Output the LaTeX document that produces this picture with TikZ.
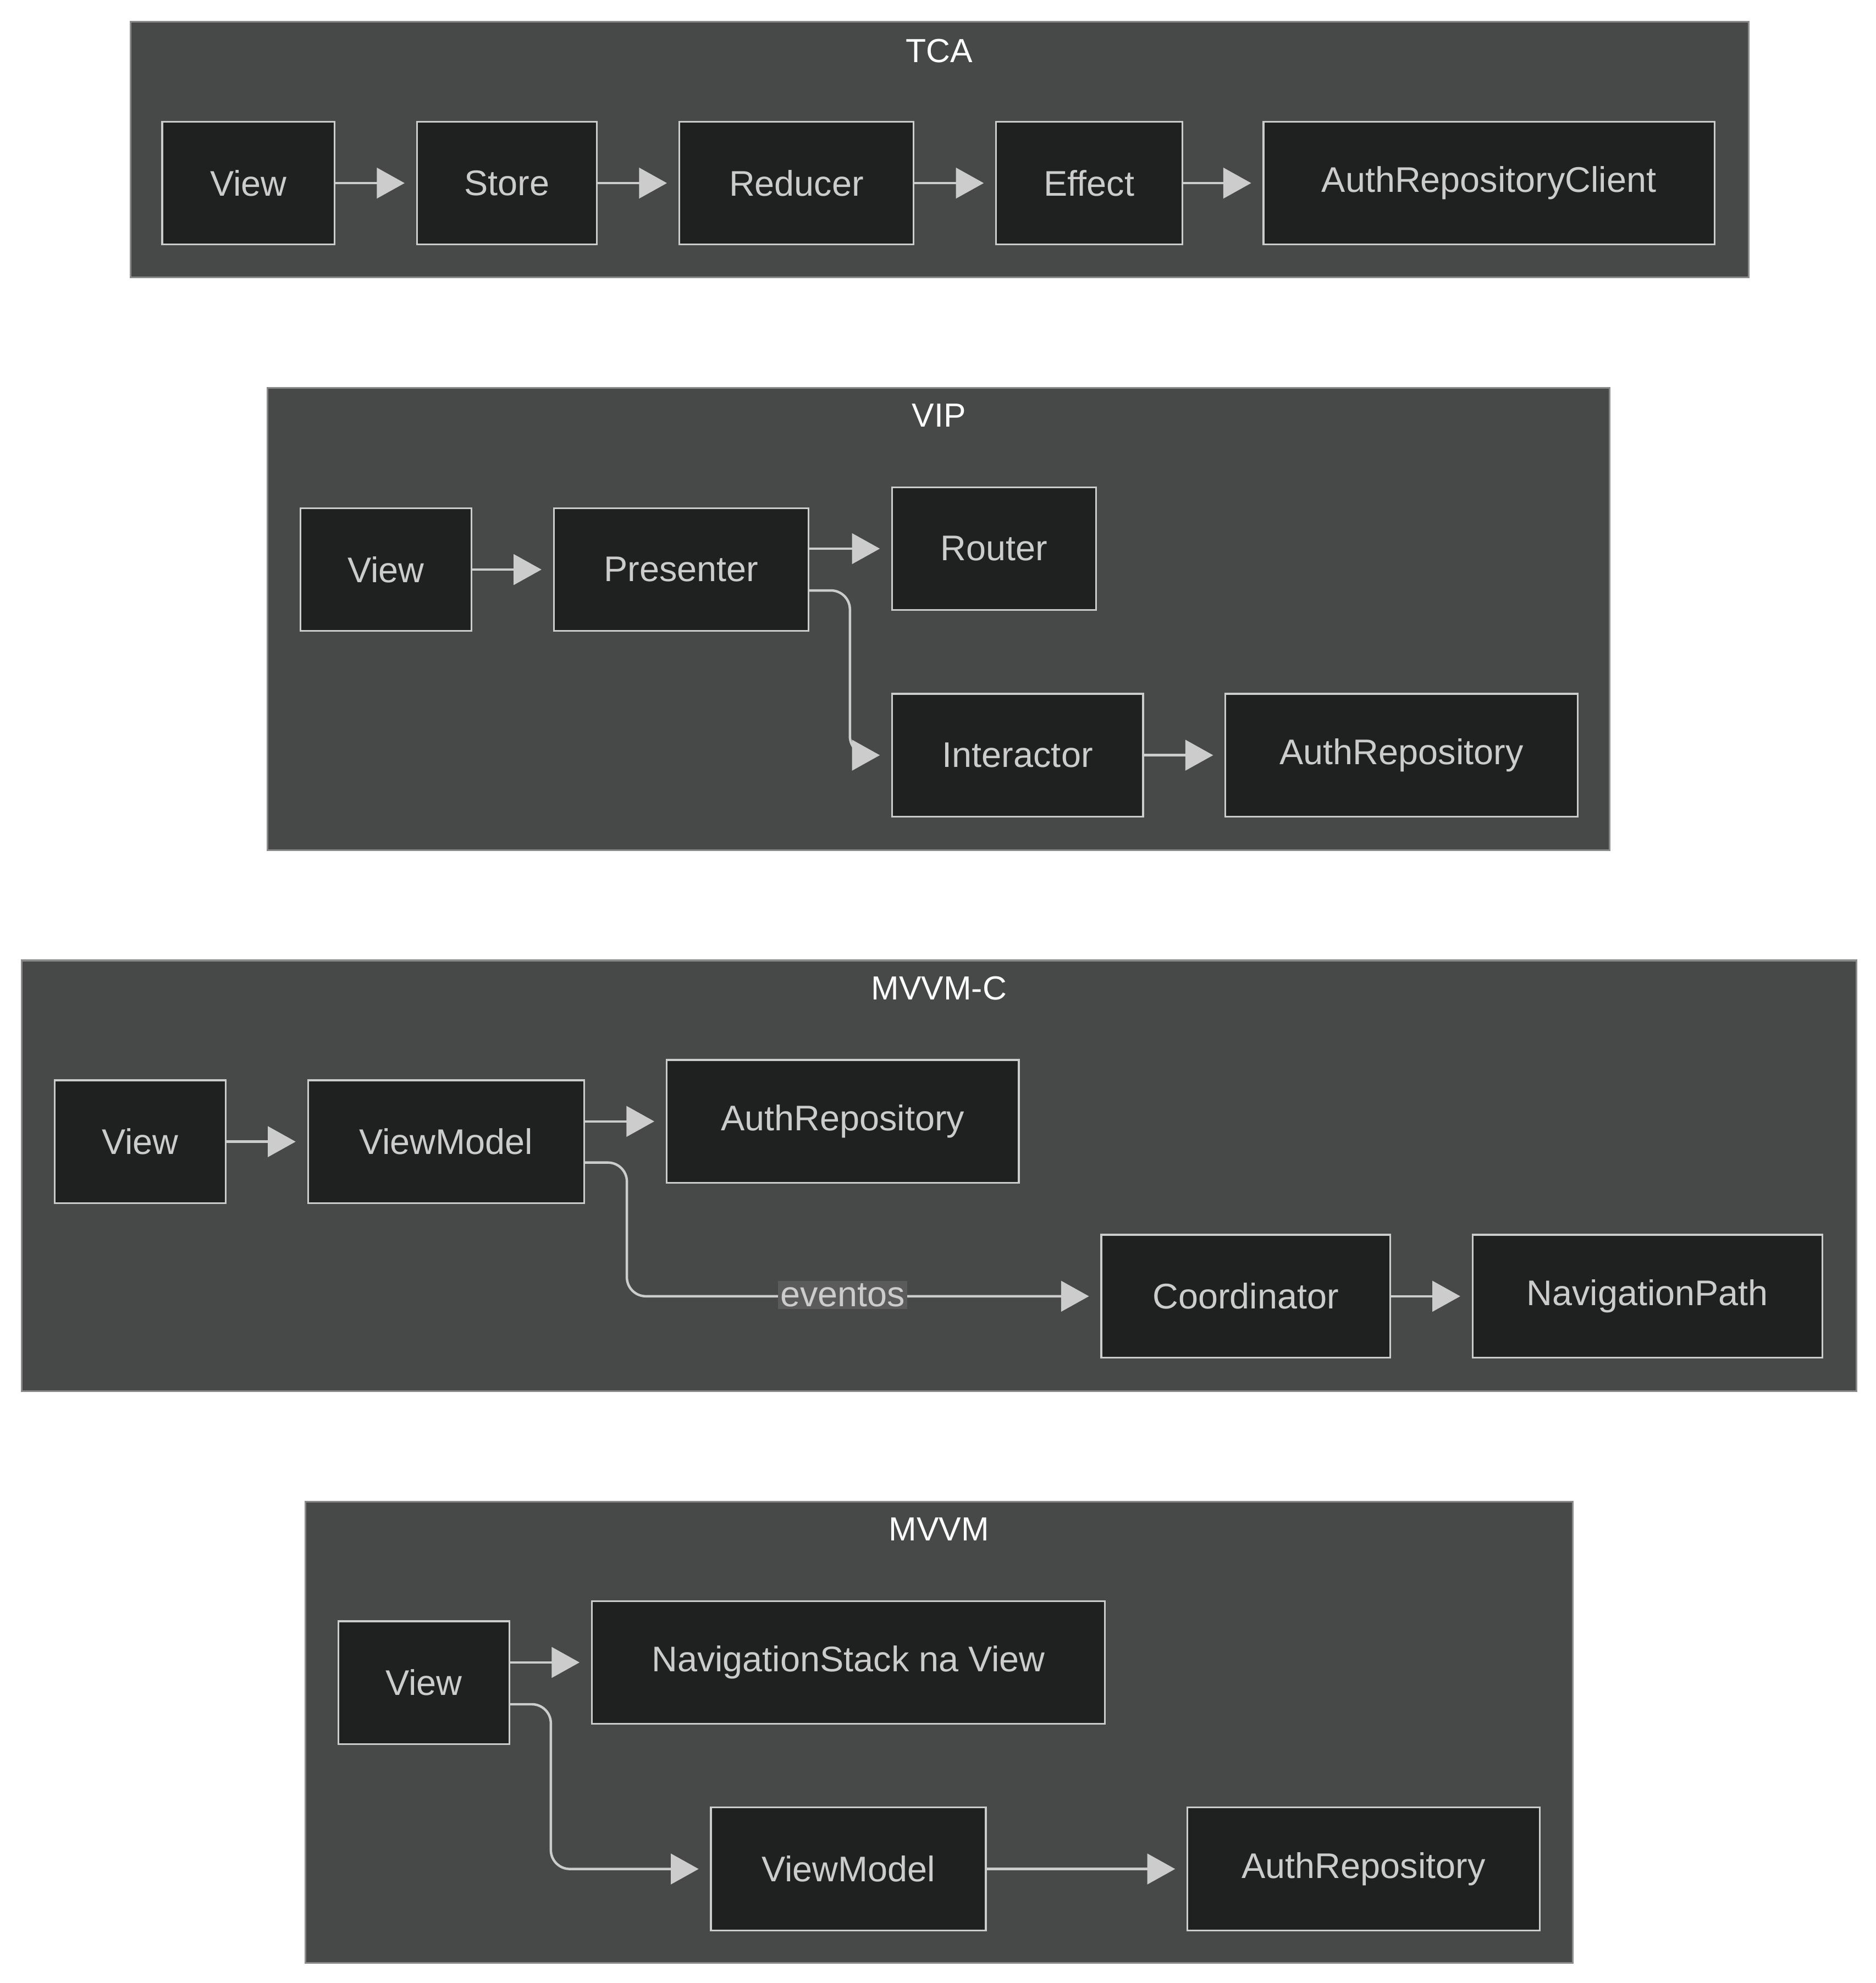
\documentclass[tikz,border=0pt]{standalone}
\usepackage{fontspec}
\setmainfont{Liberation Sans}
\usetikzlibrary{arrows.meta,positioning}
\definecolor{clusterfill}{HTML}{474948}
\definecolor{clusterline}{HTML}{8A8A8A}
\definecolor{boxfill}{HTML}{1F2020}
\definecolor{boxline}{HTML}{CCCCCC}
\definecolor{labelfill}{HTML}{5A5B5A}
\tikzset{
  cluster/.style={draw=clusterline, fill=clusterfill, line width=0.8pt},
  ctitle/.style={text=white, font=\fontsize{15}{18}\selectfont},
  box/.style={rectangle, draw=boxline, fill=boxfill, text=boxline, line width=0.8pt,
    minimum height=1.94cm, inner sep=0pt, font=\fontsize{16}{19}\selectfont},
  flow/.style={draw=boxline, line width=1.1pt, rounded corners=0.3cm,
    -{Triangle[length=0.44cm,width=0.48cm]}, shorten >=0.18cm},
  elabel/.style={fill=labelfill, text=boxline, inner sep=1pt, font=\fontsize{16}{19}\selectfont}
}
\begin{document}
\begin{tikzpicture}[x=0.02cm,y=-0.02cm]
  \useasboundingbox[fill=white] (0,0) rectangle (1480,1565);

  % TCA
  \draw[cluster] (103,17) rectangle (1380,219);
  \node[ctitle] (tcat) at (741,40) {TCA};
  \node[box, minimum width=2.72cm] (tview) at (196,144.5) {View};
  \node[box, minimum width=2.84cm] (tstore) at (400,144.5) {Store};
  \node[box, minimum width=3.7cm] (tred) at (628.5,144.5) {Reducer};
  \node[box, minimum width=2.94cm] (teff) at (859.5,144.5) {Effect};
  \node[box, minimum width=7.12cm] (tclient) at (1175,144.5) {AuthRepositoryClient};
  \draw[flow] (tview) -- (tstore);
  \draw[flow] (tstore) -- (tred);
  \draw[flow] (tred) -- (teff);
  \draw[flow] (teff) -- (tclient);

  % VIP
  \draw[cluster] (211,306) rectangle (1270,671);
  \node[ctitle] (vipt) at (741,328) {VIP};
  \node[box, minimum width=2.7cm] (vview) at (304.5,449.5) {View};
  \node[box, minimum width=4.02cm] (vpres) at (537.5,449.5) {Presenter};
  \node[box, minimum width=3.22cm] (vrout) at (784.5,433) {Router};
  \node[box, minimum width=3.96cm] (vinter) at (803,596) {Interactor};
  \node[box, minimum width=5.56cm] (vrepo) at (1106,596) {AuthRepository};
  \draw[flow] (vview) -- (vpres);
  \draw[flow] (vpres.east |- vrout.west) -- (vrout.west);
  \draw[flow] ([yshift=-0.33cm]vpres.east) -- ++(0.64cm,0) |- (vinter.west);
  \draw[flow] (vinter) -- (vrepo);

  % MVVM-C
  \draw[cluster] (17,758) rectangle (1465,1098);
  \node[ctitle] (mct) at (741,780) {MVVM-C};
  \node[box, minimum width=2.7cm] (cview) at (110.5,901) {View};
  \node[box, minimum width=4.36cm] (cvm) at (352,901) {ViewModel};
  \node[box, minimum width=5.56cm] (crepo) at (665,885) {AuthRepository};
  \node[box, minimum width=4.56cm] (ccoord) at (983,1023) {Coordinator};
  \node[box, minimum width=5.52cm] (cpath) at (1300,1023) {NavigationPath};
  \draw[flow] (cview) -- (cvm);
  \draw[flow] (cvm.east |- crepo.west) -- (crepo.west);
  \draw[flow] ([yshift=-0.33cm]cvm.east) -- ++(0.66cm,0) |- (ccoord.west);
  \node[elabel] (cev) at (665,1022) {eventos};
  \draw[flow] (ccoord) -- (cpath);

  % MVVM
  \draw[cluster] (241,1185) rectangle (1241,1549);
  \node[ctitle] (mt) at (741,1207) {MVVM};
  \node[box, minimum width=2.7cm] (mview) at (334.5,1328) {View};
  \node[box, minimum width=8.1cm] (mstack) at (669.5,1312) {NavigationStack na View};
  \node[box, minimum width=4.34cm] (mvm) at (669.5,1475) {ViewModel};
  \node[box, minimum width=5.56cm] (mrepo) at (1076,1475) {AuthRepository};
  \draw[flow] (mview.east |- mstack.west) -- (mstack.west);
  \draw[flow] ([yshift=-0.34cm]mview.east) -- ++(0.64cm,0) |- (mvm.west);
  \draw[flow] (mvm) -- (mrepo);
\end{tikzpicture}
\end{document}
